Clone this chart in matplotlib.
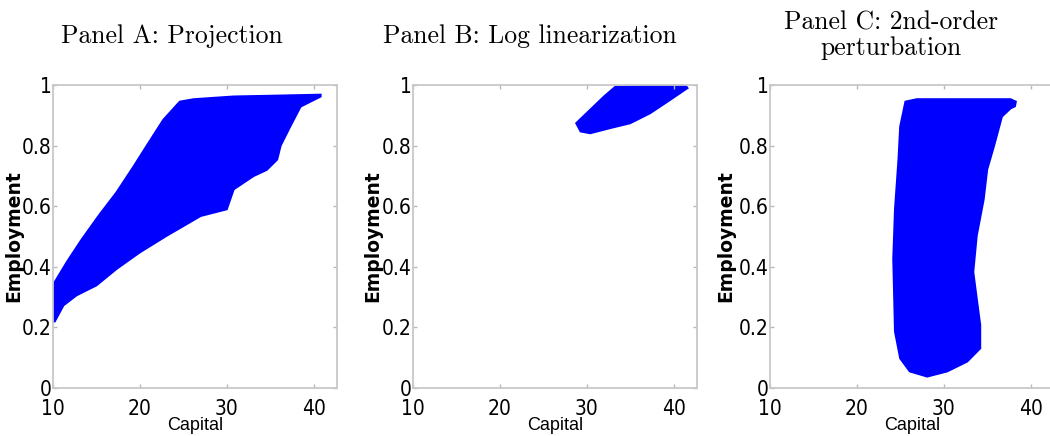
import matplotlib
matplotlib.use('Agg')
import matplotlib.pyplot as plt

plt.rcParams['font.family'] = ['Liberation Sans', 'DejaVu Sans']

# outline of the simulated (capital, employment) cloud for each solution method
proj_k = [10.0, 10.0, 11.6, 13.3, 15.4, 17.3, 19.3, 20.8, 22.7, 24.6, 26.2, 30.8, 36.0, 40.8,
          40.8, 38.5, 37.3, 36.2, 35.8, 34.6, 33.1, 30.8, 30.0, 27.0, 23.1, 20.0, 17.3,
          15.0, 12.7, 11.2, 10.2]
proj_n = [0.22, 0.34, 0.416, 0.49, 0.574, 0.645, 0.732, 0.80, 0.885, 0.945, 0.953, 0.962, 0.965, 0.968,
          0.962, 0.929, 0.863, 0.80, 0.754, 0.72, 0.70, 0.656, 0.59, 0.568, 0.503, 0.448, 0.393,
          0.339, 0.306, 0.273, 0.22]

loglin_k = [28.8, 30.4, 32.0, 33.3, 37.0, 41.4, 41.6, 39.6, 37.3, 35.0, 32.7, 30.4, 29.3]
loglin_n = [0.874, 0.918, 0.962, 0.994, 0.997, 0.997, 0.99, 0.951, 0.907, 0.874, 0.858, 0.841, 0.847]

pert_k = [25.6, 26.9, 32.0, 37.7, 38.3, 38.2, 37.7, 36.7, 35.8, 35.0, 34.6, 33.8, 33.4, 33.8,
          34.2, 34.2, 32.7, 30.4, 28.1, 26.1, 25.0, 24.4, 24.2, 24.4, 24.8, 25.0]
pert_n = [0.945, 0.953, 0.953, 0.953, 0.945, 0.93, 0.923, 0.896, 0.80, 0.721, 0.623, 0.503, 0.383, 0.295,
          0.208, 0.131, 0.0875, 0.055, 0.038, 0.055, 0.098, 0.186, 0.426, 0.59, 0.754, 0.863]

titles = ['Panel A: Projection', 'Panel B: Log linearization', 'Panel C: 2nd-order\nperturbation']
clouds = [(proj_k, proj_n), (loglin_k, loglin_n), (pert_k, pert_n)]
xticks = [10, 20, 30, 40]
yticks = [0, 0.2, 0.4, 0.6, 0.8, 1]
yticklabels = ['0', '0.2', '0.4', '0.6', '0.8', '1']

fig = plt.figure(figsize=(10.5, 4.36), dpi=100)
lefts = [0.0505, 0.3933, 0.7333]
title_x = [172, 530, 891]
ylab_x = [-0.14, -0.14, -0.155]

for i in range(3):
    ax = fig.add_axes([lefts[i], 0.110, 0.2705, 0.695])
    k, n = clouds[i]
    ax.fill(k, n, color='#0000ff', ec='#0000ff', lw=1.5)
    ax.set_xlim(10, 42.7)
    ax.set_ylim(0, 1)
    ax.set_xticks(xticks)
    ax.set_yticks(yticks)
    ax.set_yticklabels(yticklabels)
    ax.tick_params(direction='in', length=3, color='#b8b8b8', top=True, right=True,
                   labelsize=15, width=1)
    ax.tick_params(axis='x', pad=8)
    ax.tick_params(axis='y', pad=1)
    for lab in ax.get_xticklabels() + ax.get_yticklabels():
        lab.set_family('DejaVu Sans')
        lab.set_fontstretch('condensed')
    for s in ax.spines.values():
        s.set_color('#c8c8c8')
        s.set_linewidth(1.3)
    ax.set_xlabel('Capital', fontsize=13)
    ax.xaxis.set_label_coords(0.5, -0.125, transform=ax.transAxes)
    ax.xaxis.label.set_va('center')
    ax.set_ylabel('Employment', fontsize=13.5, fontweight='bold', family=['DejaVu Sans'])
    ax.yaxis.set_label_coords(ylab_x[i], 0.5, transform=ax.transAxes)
    ax.yaxis.label.set_va('center')
    ty = 1 - 36 / 436 if i < 2 else 1 - 35 / 436
    fig.text(title_x[i] / 1050, ty, titles[i], family=['cmr10'], fontsize=18.5,
             ha='center', va='center', linespacing=1.1)

fig.savefig('out.png', dpi=100)
